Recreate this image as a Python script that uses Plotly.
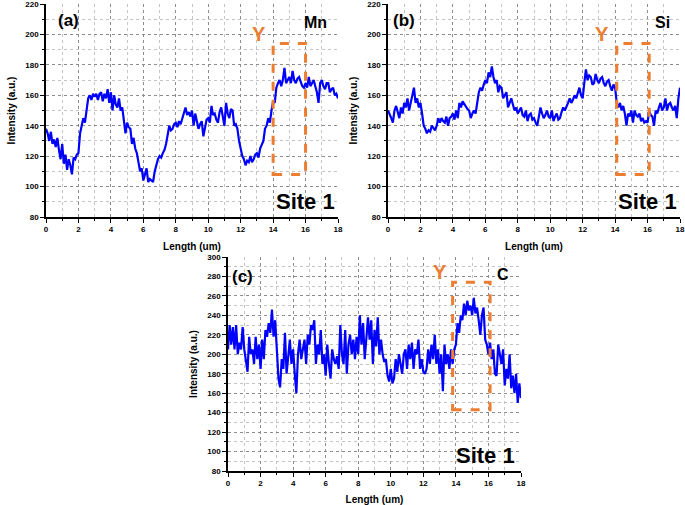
"""Line-scan intensity profiles (Mn, Si, C) at Site 1, three panels."""

import plotly.graph_objects as go

# sample positions along the scan line (um)
LENGTH = [i / 10 for i in range(181)]

MN = [138, 135, 130, 136, 128, 131, 126, 132, 124, 118,
      128, 115, 121, 111, 118, 114, 108, 119, 118, 121,
      122, 135, 140, 145, 142, 150, 158, 160, 157, 161,
      159, 161, 157, 161, 162, 156, 161, 158, 164, 155,
      162, 150, 160, 154, 152, 158, 150, 152, 145, 135,
      142, 139, 138, 128, 132, 125, 122, 115, 110, 112,
      104, 108, 112, 103, 105, 104, 103, 110, 115, 118,
      120, 119, 122, 124, 128, 135, 140, 137, 138, 141,
      142, 139, 143, 141, 145, 148, 152, 147, 149, 146,
      150, 140, 148, 143, 138, 141, 143, 133, 140, 144,
      145, 142, 153, 147, 148, 144, 142, 149, 152, 146,
      140, 155, 148, 145, 151, 150, 140, 141, 138, 130,
      125, 120, 118, 114, 117, 116, 120, 116, 118, 121,
      122, 119, 125, 127, 130, 138, 140, 145, 142, 150,
      156, 155, 165, 168, 170, 166, 170, 178, 168, 170,
      172, 168, 176, 170, 168, 171, 172, 169, 166, 165,
      168, 165, 172, 166, 168, 170, 166, 162, 155, 168,
      170, 166, 164, 168, 168, 162, 164, 165, 160, 161,
      158]

SI = [150, 148, 145, 142, 150, 153, 148, 145, 152, 148,
      155, 152, 158, 150, 155, 160, 165, 155, 158, 152,
      155, 148, 140, 138, 135, 137, 136, 140, 138, 137,
      140, 145, 142, 145, 143, 142, 146, 140, 145, 146,
      148, 144, 150, 145, 155, 152, 156, 154, 153, 151,
      150, 145, 148, 150, 148, 155, 162, 165, 163, 167,
      170, 168, 175, 172, 179, 172, 168, 170, 162, 166,
      165, 158, 160, 162, 152, 155, 158, 154, 150, 152,
      148, 150, 152, 147, 146, 150, 143, 147, 148, 144,
      145, 142, 140, 146, 152, 148, 145, 147, 150, 146,
      145, 150, 143, 146, 148, 144, 145, 149, 152, 150,
      152, 155, 158, 155, 157, 160, 158, 161, 165, 160,
      158, 168, 177, 170, 173, 172, 167, 168, 174, 170,
      168, 171, 172, 168, 166, 169, 170, 166, 163, 167,
      165, 155, 152, 155, 150, 153, 148, 140, 148, 146,
      150, 142, 150, 147, 146, 148, 143, 145, 142, 143,
      142, 150, 147, 146, 140, 150, 148, 152, 155, 150,
      152, 158, 150, 154, 155, 152, 150, 153, 145, 158,
      165]

C = [205, 230, 210, 228, 205, 230, 200, 212, 205, 228,
     205, 190, 182, 218, 200, 205, 190, 218, 195, 210,
     185, 215, 195, 225, 218, 232, 222, 246, 218, 235,
     200, 175, 166, 195, 185, 222, 180, 200, 215, 190,
     205, 180, 160, 200, 215, 195, 205, 215, 190, 220,
     210, 230, 225, 235, 190, 210, 200, 225, 190, 200,
     178, 210, 190, 175, 205, 195, 190, 198, 185, 230,
     200, 190, 225, 180, 210, 220, 200, 215, 195, 218,
     200, 240, 210, 232, 195, 218, 238, 215, 235, 190,
     225, 208, 238, 200, 215, 200, 192, 195, 178, 172,
     185, 170, 175, 195, 182, 200, 188, 180, 200, 205,
     185, 210, 195, 212, 185, 205, 200, 215, 185, 195,
     182, 180, 185, 205, 190, 210, 195, 220, 190, 205,
     180, 200, 162, 210, 190, 200, 185, 205, 190, 205,
     210, 232, 222, 240, 235, 252, 240, 255, 245, 250,
     240, 258, 242, 248, 235, 220, 240, 248, 215, 210,
     200, 212, 195, 205, 180, 178, 210, 200, 190, 205,
     168, 185, 175, 200, 165, 178, 160, 180, 150, 170,
     155]

# dashed "Y" boxes: [x0, x1, y0, y1]
BOX_A = [14.0, 16.0, 108, 194]
BOX_B = [14.1, 16.1, 108, 194]
BOX_C = [13.8, 16.1, 143, 274]

BLUE = "#0000ff"
ORANGE = "#ed7d31"
FONT = "Liberation Sans, Arial, sans-serif"
W, H = 685, 505

panels = [
    # axis suffix, values, ymax, x-domain px, y-domain px (top, bottom), box, labels
    dict(ax="", vals=MN, ymax=220, xpx=(46, 338), ypx=(4, 217), box=BOX_A,
         tag=("(a)", 1.4, 209), el=("Mn", 16.6, 208), y=(13.1, 200), site=(16.0, 90)),
    dict(ax="2", vals=SI, ymax=220, xpx=(388, 680), ypx=(4, 217), box=BOX_B,
         tag=("(b)", 1.0, 209), el=("Si", 16.9, 208), y=(13.2, 200), site=(16.0, 90)),
    dict(ax="3", vals=C, ymax=300, xpx=(228, 521), ypx=(257, 471), box=BOX_C,
         tag=("(c)", 0.9, 280), el=("C", 16.9, 282), y=(13.0, 285), site=(15.8, 96)),
]

fig = go.Figure()
layout = {}
for p in panels:
    xa, ya = "x" + p["ax"], "y" + p["ax"]
    fig.add_trace(go.Scatter(x=LENGTH, y=p["vals"], mode="lines", xaxis=xa, yaxis=ya,
                             line=dict(color=BLUE, width=2.2), showlegend=False))
    common = dict(
        showline=True, linecolor="black", linewidth=1.5, mirror=False,
        ticks="outside", ticklen=4, tickwidth=1.2, tickcolor="black",
        tickfont=dict(size=8, family=FONT, color="black", weight="bold"),
        ticklabeloverflow="allow",
        showgrid=True, gridcolor="#8c8c8c", griddash="dot", gridwidth=1,
        zeroline=False, automargin=False,
    )
    minor = dict(ticks="outside", ticklen=2, tickcolor="black", showgrid=True,
                 gridcolor="#c4c4c4", griddash="dot", gridwidth=1)
    layout["xaxis" + p["ax"]] = dict(
        common, domain=[p["xpx"][0] / W, p["xpx"][1] / W], anchor=ya,
        range=[0, 18], dtick=2, tick0=0, minor=dict(minor, dtick=1),
        title=dict(text="Length (um)", standoff=10,
                   font=dict(size=10, family=FONT, color="black", weight="bold")),
    )
    layout["yaxis" + p["ax"]] = dict(
        common, domain=[1 - p["ypx"][1] / H, 1 - p["ypx"][0] / H], anchor=xa,
        range=[80, p["ymax"]], dtick=20, tick0=80, minor=dict(minor, dtick=10),
        title=dict(text="Intensity (a.u.)", standoff=8,
                   font=dict(size=10, family=FONT, color="black", weight="bold")),
    )
    x0, x1, y0, y1 = p["box"]
    fig.add_shape(type="rect", xref=xa, yref=ya, x0=x0, x1=x1, y0=y0, y1=y1,
                  line=dict(color=ORANGE, width=3, dash="dash"))
    txt, tx, ty = p["tag"]
    fig.add_annotation(x=tx, y=ty, xref=xa, yref=ya, text=f"<b>{txt}</b>", showarrow=False,
                       font=dict(size=17, family=FONT, color="black"))
    txt, tx, ty = p["el"]
    fig.add_annotation(x=tx, y=ty, xref=xa, yref=ya, text=f"<b>{txt}</b>", showarrow=False,
                       font=dict(size=16, family=FONT, color="black"))
    fig.add_annotation(x=p["y"][0], y=p["y"][1], xref=xa, yref=ya, text="<b>Y</b>",
                       showarrow=False, font=dict(size=20, family=FONT, color=ORANGE))
    fig.add_annotation(x=p["site"][0], y=p["site"][1], xref=xa, yref=ya, text="<b>Site 1</b>",
                       showarrow=False, font=dict(size=22, family=FONT, color="black"))

fig.update_layout(
    **layout,
    width=W, height=H,
    margin=dict(l=0, r=0, t=0, b=0),
    paper_bgcolor="white", plot_bgcolor="white",
    font=dict(family=FONT, color="black"),
)

# the page's default body margin would push the figure off the 685x505 window
fig.write_html("out.html", config={"displayModeBar": False},
               post_script="document.body.style.margin = '0';")
